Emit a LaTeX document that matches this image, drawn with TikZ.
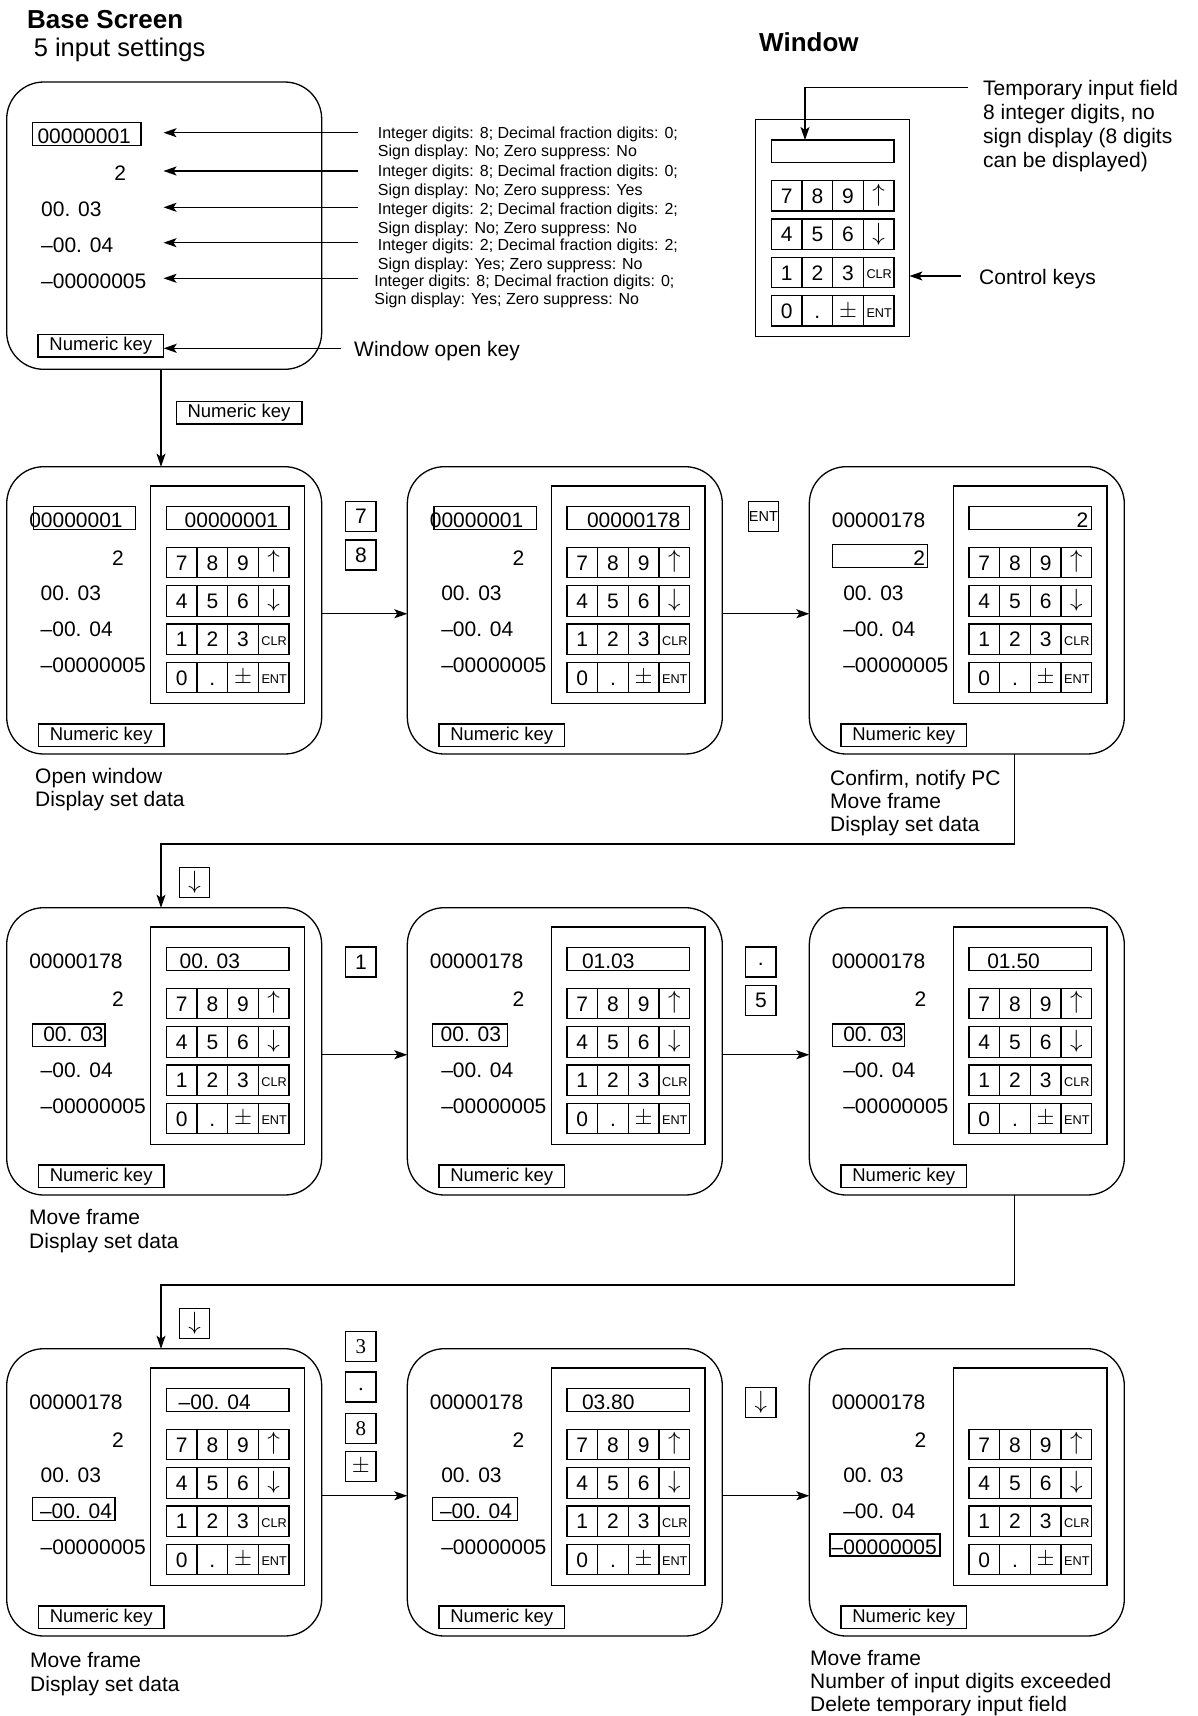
\RequirePackage{fix-cm}
\documentclass[tikz,border=0pt]{standalone}
\usepackage{fontspec}
\setmainfont{Liberation Sans}
\newfontfamily\serifnum{Liberation Serif}
\usetikzlibrary{arrows.meta}
\newcommand\fs[1]{\fontsize{#1}{#1}\selectfont}
\def\PXa{6.7}\def\PXb{407.3}\def\PXc{809.3}
\def\PYa{466.7}\def\PYb{907.7}\def\PYc{1348.7}
\tikzset{
  ln/.style={line width=1.3pt},
  arr/.style={ln, -{Stealth[length=13pt,width=9pt,inset=3pt]}},
  val/.style={inner sep=0pt, outer sep=0pt, font=\fs{21}},
  captxt/.style={inner sep=0pt, anchor=base west, font=\fs{21}},
  desctxt/.style={inner sep=0pt, anchor=base west, font=\fs{16}},
  scr/.style={draw, ln, rounded corners=37pt, minimum width=315pt, minimum height=287.3pt, inner sep=0pt, outer sep=0pt},
  numkey/.style={draw, ln, minimum width=125.7pt, minimum height=22.7pt, inner sep=0pt, outer sep=0pt, font=\fs{18.5}},
  keybox/.style={draw, ln, minimum width=30.3pt, minimum height=30pt, inner sep=0pt, outer sep=0pt, font=\fs{21}},
  dotbox/.style={keybox, text height=6pt, text depth=0pt},
  winbox/.style={draw, ln, minimum width=153.7pt, minimum height=217.3pt, inner sep=0pt, outer sep=0pt},
  fieldbox/.style={draw, ln, minimum width=122.6pt, minimum height=22.6pt, inner sep=0pt, outer sep=0pt},
  rowbox/.style={draw, ln, minimum width=122.6pt, minimum height=30.5pt, inner sep=0pt, outer sep=0pt},
  keylbl/.style={inner sep=0pt, font=\fs{21}},
  pics/keypad/.style={code={
    \node[winbox, anchor=north west] (-w) at (0,0) {};
    \foreach \rr/\ry in {1/61.3,2/99.7,3/138,4/176.3}{
      \node[rowbox, anchor=north west] (-row\rr) at (15.7,\ry) {};
      \foreach \xx in {46.3,77,107.7} \draw[ln] (\xx,\ry) -- (\xx,\ry+30.5);
    }
    \node[keylbl, anchor=base] (-k7) at (31,84) {7};
    \node[keylbl, anchor=base] (-k8) at (61.65,84) {8};
    \node[keylbl, anchor=base] (-k9) at (92.35,84) {9};
    \node[keylbl, font=\fs{25}] (-kup) at (123,75.5) {$\uparrow$};
    \node[keylbl, anchor=base] (-k4) at (31,122.4) {4};
    \node[keylbl, anchor=base] (-k5) at (61.65,122.4) {5};
    \node[keylbl, anchor=base] (-k6) at (92.35,122.4) {6};
    \node[keylbl, font=\fs{25}] (-kdn) at (123,114.5) {$\downarrow$};
    \node[keylbl, anchor=base] (-k1) at (31,160.7) {1};
    \node[keylbl, anchor=base] (-k2) at (61.65,160.7) {2};
    \node[keylbl, anchor=base] (-k3) at (92.35,160.7) {3};
    \node[keylbl, anchor=base, font=\fs{12.7}] (-kclr) at (123.5,159.5) {CLR};
    \node[keylbl, anchor=base] (-k0) at (31,199) {0};
    \node[keylbl, anchor=base] (-kdot) at (61.65,199) {.};
    \node[keylbl, anchor=base, font=\fs{23}] (-kpm) at (92.35,197.8) {$\pm$};
    \node[keylbl, anchor=base, font=\fs{12.7}] (-kent) at (123.5,197.8) {ENT};
  }},
}
\newcommand\panel[3]{%
  \node[scr, anchor=north west] (#1) at (#2,#3) {};
  \node[numkey, anchor=north west] (#1nk) at (#2+31.6,#3+257.3) {Numeric key};
  \pic (#1kp) at (#2+144,#3+19.3) {keypad};
}
\newcommand\field[3]{\node[fieldbox, anchor=north west] (#1f) at (#2+159.7,#3+40) {};}
\newcommand\vA[4]{\node[val, anchor=base east] (#1va) at (#2+116,#3+61) {#4};}
\newcommand\vB[3]{\node[val, anchor=base east] (#1vb) at (#2+117,#3+98.3) {2};}
\newcommand\vC[3]{\node[val, anchor=base west] (#1vc) at (#2+34,#3+134) {00. 03};}
\newcommand\vD[3]{\node[val, anchor=base west] (#1vd) at (#2+34,#3+170) {–00. 04};}
\newcommand\vE[3]{\node[val, anchor=base west] (#1ve) at (#2+34,#3+205.6) {–00000005};}
\begin{document}
\begin{tikzpicture}[x=1pt,y=-1pt]
\fill[white] (0,0) rectangle (1198,1716);
\useasboundingbox (0,0) rectangle (1198,1716);

% titles
\node[inner sep=0pt, anchor=base west, font=\bfseries\fs{26}] (tbase) at (26.9,28.3) {Base Screen};
\node[inner sep=0pt, anchor=base west, font=\fs{25.5}] (tfive) at (33.6,56.7) {5 input settings};
\node[inner sep=0pt, anchor=base west, font=\bfseries\fs{26}] (twin) at (759,51.7) {Window};

% base screen
\node[scr, anchor=north west] (base) at (6.7,82) {};
\draw[ln] (32.7,122.7) rectangle (141,145.7);
\node[val, anchor=base west] (bva) at (37.5,143.5) {00000001};
\node[val, anchor=base east] (bvb) at (126,180) {2};
\node[val, anchor=base west] (bvc) at (41.2,216.7) {00. 03};
\node[val, anchor=base west] (bvd) at (41.2,252.7) {–00. 04};
\node[val, anchor=base west] (bve) at (41.2,288.3) {–00000005};
\node[numkey, anchor=north west] (bnk) at (38,334.3) {Numeric key};

\foreach \i/\yy in {1/132.7,2/171,3/207.3,4/242.7,5/278.3}{
  \coordinate (s\i) at (358,\yy);
  \coordinate (e\i) at (163.5,\yy);
  \draw[arr] (s\i) -- (e\i);
}
\node[desctxt] (d1a) at (377.7,138) {Integer digits: 8; Decimal fraction digits: 0;};
\node[desctxt] (d1b) at (377.7,156.5) {Sign display: No; Zero suppress: No};
\node[desctxt] (d2a) at (377.7,176.5) {Integer digits: 8; Decimal fraction digits: 0;};
\node[desctxt] (d2b) at (377.7,195) {Sign display: No; Zero suppress: Yes};
\node[desctxt] (d3a) at (377.7,214.7) {Integer digits: 2; Decimal fraction digits: 2;};
\node[desctxt] (d3b) at (377.7,233.3) {Sign display: No; Zero suppress: No};
\node[desctxt] (d4a) at (377.7,250.7) {Integer digits: 2; Decimal fraction digits: 2;};
\node[desctxt] (d4b) at (377.7,269) {Sign display: Yes; Zero suppress: No};
\node[desctxt] (d5a) at (374.2,286.7) {Integer digits: 8; Decimal fraction digits: 0;};
\node[desctxt] (d5b) at (374.2,304.5) {Sign display: Yes; Zero suppress: No};

\coordinate (sw) at (340.5,348.3);
\draw[arr] (sw) -- (sw -| bnk.east);
\node[captxt] (wok) at (354,356) {Window open key};

% top window
\pic (kp0) at (755.7,119.3) {keypad};
\node[fieldbox, anchor=north west] (f0) at (771.4,140) {};
\coordinate (tf) at (968,87.7);
\coordinate (tfx) at (805,87.7);
\draw[arr] (tf) -- (tfx) -- (tfx |- f0.north);
\node[captxt] (tmp1) at (983,95) {Temporary input field};
\node[captxt] (tmp2) at (983,119) {8 integer digits, no};
\node[captxt] (tmp3) at (983,143) {sign display (8 digits};
\node[captxt] (tmp4) at (983,167) {can be displayed)};
\coordinate (ck) at (961,276);
\draw[arr] (ck) -- (ck -| kp0-w.east);
\node[captxt] (ctl) at (979,284.5) {Control keys};

% ---- row 1 ----
\panel{pa}{\PXa}{\PYa}
\field{pa}{\PXa}{\PYa}
\draw[ln] (\PXa+26.6,\PYa+40) rectangle (\PXa+129,\PYa+62.6);
\vA{pa}{\PXa}{\PYa}{00000001}\vB{pa}{\PXa}{\PYa}\vC{pa}{\PXa}{\PYa}\vD{pa}{\PXa}{\PYa}\vE{pa}{\PXa}{\PYa}
\node[val, anchor=base west] (pat) at (\PXa+178,\PYa+61) {00000001};

\panel{pb}{\PXb}{\PYa}
\field{pb}{\PXb}{\PYa}
\draw[ln] (\PXb+26.6,\PYa+40) rectangle (\PXb+129,\PYa+62.6);
\vA{pb}{\PXb}{\PYa}{00000001}\vB{pb}{\PXb}{\PYa}\vC{pb}{\PXb}{\PYa}\vD{pb}{\PXb}{\PYa}\vE{pb}{\PXb}{\PYa}
\node[val, anchor=base west] (pbt) at (\PXb+179.7,\PYa+61) {00000178};

\panel{pc}{\PXc}{\PYa}
\field{pc}{\PXc}{\PYa}
\draw[ln] (\PXc+23,\PYa+77.6) rectangle (\PXc+118.4,\PYa+101);
\vA{pc}{\PXc}{\PYa}{00000178}
\node[val, anchor=base east] (pcvb) at (\PXc+115.7,\PYa+98.3) {2};
\vC{pc}{\PXc}{\PYa}\vD{pc}{\PXc}{\PYa}\vE{pc}{\PXc}{\PYa}
\node[val, anchor=base east] (pct) at (\PXc+279,\PYa+61) {2};

% base -> row 1
\coordinate (cx) at (161,0);
\draw[arr] (base.south -| cx) -- (pa.north -| cx);
\node[numkey] (nklab) at (239,412.5) {Numeric key};

\draw[arr] ([yshift=-3.4pt]pa.east) -- ([yshift=-3.4pt]pb.west);
\draw[arr] ([yshift=-3.4pt]pb.east) -- ([yshift=-3.4pt]pc.west);
\node[keybox] (o7) at (360.9,516.7) {7};
\node[keybox] (o8) at (360.9,555) {8};
\node[keybox, font=\fs{14.5}] (oent) at (763.4,516.7) {ENT};

\node[captxt] (ca1) at (35,783) {Open window};
\node[captxt] (ca2) at (35,806.7) {Display set data};
\node[captxt] (cc1) at (830,785) {Confirm, notify PC};
\node[captxt] (cc2) at (830,808.3) {Move frame};
\node[captxt] (cc3) at (830,831.7) {Display set data};

% ---- row 2 ----
\panel{pd}{\PXa}{\PYb}
\field{pd}{\PXa}{\PYb}
\draw[ln] (\PXa+26,\PYb+116.3) rectangle (\PXa+98.3,\PYb+139);
\vA{pd}{\PXa}{\PYb}{00000178}\vB{pd}{\PXa}{\PYb}
\node[val, anchor=base west] (pdvc) at (\PXa+36.6,\PYb+134) {00. 03};
\vD{pd}{\PXa}{\PYb}\vE{pd}{\PXa}{\PYb}
\node[val, anchor=base west] (pdt) at (\PXa+173,\PYb+61) {00. 03};

\panel{pe}{\PXb}{\PYb}
\field{pe}{\PXb}{\PYb}
\draw[ln] (\PXb+25.4,\PYb+116.3) rectangle (\PXb+100,\PYb+139);
\vA{pe}{\PXb}{\PYb}{00000178}\vB{pe}{\PXb}{\PYb}
\node[val, anchor=base west] (pevc) at (\PXb+33.4,\PYb+134) {00. 03};
\vD{pe}{\PXb}{\PYb}\vE{pe}{\PXb}{\PYb}
\node[val, anchor=base west] (pet) at (\PXb+174.7,\PYb+61) {01.03};

\panel{pf}{\PXc}{\PYb}
\field{pf}{\PXc}{\PYb}
\draw[ln] (\PXc+23,\PYb+116.3) rectangle (\PXc+95,\PYb+139);
\vA{pf}{\PXc}{\PYb}{00000178}\vB{pf}{\PXc}{\PYb}
\node[val, anchor=base west] (pfvc) at (\PXc+34,\PYb+134) {00. 03};
\vD{pf}{\PXc}{\PYb}\vE{pf}{\PXc}{\PYb}
\node[val, anchor=base west] (pft) at (\PXc+178,\PYb+61) {01.50};

% row 1 -> row 2
\coordinate (v1) at (1014.3,844);
\coordinate (h1) at (161,844);
\draw[arr] (pc.south -| v1) -- (v1) -- (h1) -- (pd.north -| h1);
\node[keybox, font=\fs{25}] (odn1) at (194.5,882.7) {$\downarrow$};

\draw[arr] ([yshift=-3.4pt]pd.east) -- ([yshift=-3.4pt]pe.west);
\draw[arr] ([yshift=-3.4pt]pe.east) -- ([yshift=-3.4pt]pf.west);
\node[keybox] (o1) at (360.9,962) {1};
\node[dotbox] (odot1) at (760.9,962) {.};
\node[keybox] (o5) at (760.9,1000.7) {5};

\node[captxt] (cd1) at (29,1224) {Move frame};
\node[captxt] (cd2) at (29,1248) {Display set data};

% ---- row 3 ----
\panel{pg}{\PXa}{\PYc}
\field{pg}{\PXa}{\PYc}
\draw[ln] (\PXa+26,\PYc+149) rectangle (\PXa+108.3,\PYc+172);
\vA{pg}{\PXa}{\PYc}{00000178}\vB{pg}{\PXa}{\PYc}\vC{pg}{\PXa}{\PYc}
\node[val, anchor=base west] (pgvd) at (\PXa+33.3,\PYc+170) {–00. 04};
\vE{pg}{\PXa}{\PYc}
\node[val, anchor=base west] (pgt) at (\PXa+172,\PYc+61) {–00. 04};

\panel{ph}{\PXb}{\PYc}
\field{ph}{\PXb}{\PYc}
\draw[ln] (\PXb+25.4,\PYc+149) rectangle (\PXb+110,\PYc+172);
\vA{ph}{\PXb}{\PYc}{00000178}\vB{ph}{\PXb}{\PYc}\vC{ph}{\PXb}{\PYc}
\node[val, anchor=base west] (phvd) at (\PXb+32.7,\PYc+170) {–00. 04};
\vE{ph}{\PXb}{\PYc}
\node[val, anchor=base west] (pht) at (\PXb+174.7,\PYc+61) {03.80};

\panel{pi}{\PXc}{\PYc}
\draw[ln] (\PXc+20.7,\PYc+185.3) rectangle (\PXc+130.7,\PYc+207.3);
\vA{pi}{\PXc}{\PYc}{00000178}\vB{pi}{\PXc}{\PYc}\vC{pi}{\PXc}{\PYc}\vD{pi}{\PXc}{\PYc}
\node[val, anchor=base west] (pive) at (\PXc+22.4,\PYc+205.6) {–00000005};

% row 2 -> row 3
\coordinate (v2) at (1014.3,1285);
\coordinate (h2) at (161,1285);
\draw[arr] (pf.south -| v2) -- (v2) -- (h2) -- (pg.north -| h2);
\node[keybox, font=\fs{25}] (odn2) at (194.5,1323.7) {$\downarrow$};

\draw[arr] ([yshift=-3.4pt]pg.east) -- ([yshift=-3.4pt]ph.west);
\draw[arr] ([yshift=-3.4pt]ph.east) -- ([yshift=-3.4pt]pi.west);
\node[keybox, font=\serifnum\fs{21}] (o3) at (360.9,1346.3) {3};
\node[dotbox, font=\serifnum\fs{21}] (odot2) at (360.9,1387) {.};
\node[keybox, font=\serifnum\fs{21}] (o8b) at (360.9,1428.3) {8};
\node[keybox, font=\fs{23}] (opm) at (360.9,1466.7) {$\pm$};
\node[keybox, font=\fs{25}] (odn3) at (760.9,1402.5) {$\downarrow$};

\node[captxt] (cg1) at (30,1667.3) {Move frame};
\node[captxt] (cg2) at (30,1691.7) {Display set data};
\node[captxt] (ci1) at (810,1665) {Move frame};
\node[captxt] (ci2) at (810,1688.3) {Number of input digits exceeded};
\node[captxt] (ci3) at (810,1711.7) {Delete temporary input field};
\end{tikzpicture}
\end{document}
